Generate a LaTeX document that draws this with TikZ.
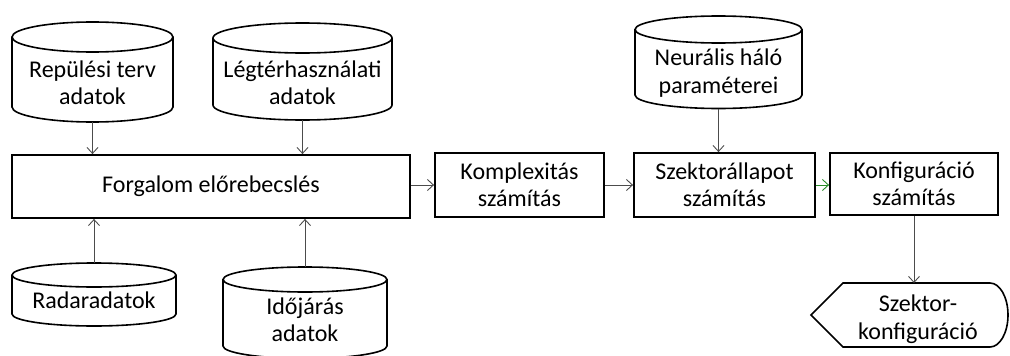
\documentclass[tikz,border=0pt]{standalone}
\usepackage{fontspec}
\setmainfont{Carlito}
\usetikzlibrary{arrows.meta}
\tikzset{
  cyl/.style={draw=black, line width=1.6pt},
  txt/.style={align=center, inner sep=0pt, font=\fontsize{24}{27.5}\selectfont},
  procbox/.style={draw=black, line width=1.8pt, align=center, inner sep=0pt, font=\fontsize{24}{27.5}\selectfont},
  arr/.style={draw=black!70, line width=0.9pt, -{Straight Barb[length=6pt,width=11pt]}},
  garr/.style={arr, draw={rgb,255:red,40;green,140;blue,40}}
}
\newcommand{\dbcyl}[8]{%
  \draw[cyl] (#2,#4) -- (#2,#5) arc[start angle=180,end angle=0,x radius={(#3-#2)/2},y radius=#6] -- (#3,#4);
  \draw[cyl] ({(#2+#3)/2},#4) ellipse[x radius={(#3-#2)/2}, y radius=#6];
  \node[txt] (#1) at ({(#2+#3)/2},#8) {#7};
  \coordinate (#1-t) at ({(#2+#3)/2},{#4-#6});
  \coordinate (#1-b) at ({(#2+#3)/2},{#5+#6});
}
\begin{document}
\begin{tikzpicture}[x=1pt,y=-1pt]
\useasboundingbox (0,0) rectangle (1010,356);
% cylinders
\dbcyl{rep}{12}{173}{37}{107}{15}{Repülési terv\\adatok}{83}
\dbcyl{leg}{213}{392}{38}{105}{15}{Légtérhasználati\\adatok}{83}
\dbcyl{rad}{12}{176}{275}{314}{12}{Radaradatok}{300}
\dbcyl{ido}{223}{387}{279.5}{346}{12.5}{Időjárás\\adatok}{320}
\dbcyl{neu}{635}{802}{29.5}{95}{13.5}{Neurális háló\\paraméterei}{73}
% process boxes
\node[procbox, minimum width=398pt, minimum height=63pt] (fe) at (211,186.5) {Forgalom előrebecslés};
\node[procbox, minimum width=169pt, minimum height=64pt] (kx) at (519.5,185) {Komplexitás\\számítás};
\node[procbox, minimum width=181pt, minimum height=64pt] (sz) at (724.5,185) {Szektorállapot\\számítás};
\node[procbox, minimum width=168pt, minimum height=62pt] (kf) at (914,184) {Konfiguráció\\számítás};
% output (display) shape
\draw[cyl] (811,315) -- (843,283) -- (990,283) arc[start angle=-90,end angle=90,x radius=18,y radius=32] -- (843,347) -- cycle;
\node[txt] (out) at (918,319) {Szektor-\\konfiguráció};
\coordinate (out-t) at (915,283);
% connectors
\draw[arr] (rep-b) -- (rep-b |- fe.north);
\draw[arr] (leg-b) -- (leg-b |- fe.north);
\draw[arr] (rad-t) -- (rad-t |- fe.south);
\draw[arr] (ido-t) -- (ido-t |- fe.south);
\draw[arr] (fe.east |- kx.west) -- (kx.west);
\draw[arr] (kx.east) -- (sz.west);
\draw[arr] (neu-b) -- (neu-b |- sz.north);
\draw[garr] (sz.east) -- (sz.east -| kf.west);
\draw[arr] (kf.south) -- (kf.south |- out-t);
\end{tikzpicture}
\end{document}
